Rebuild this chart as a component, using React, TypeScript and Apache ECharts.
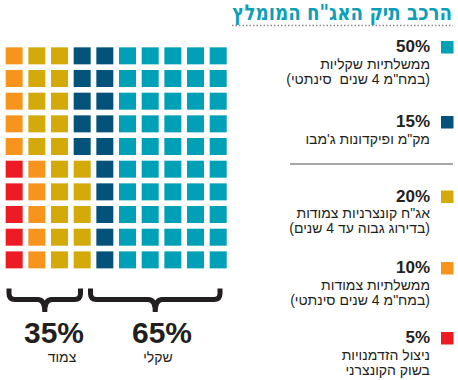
import React, { useEffect, useRef } from "react";
import * as echarts from "echarts";

// ---- data ----
const titleText = "הרכב תיק האג\"ח המומלץ";
const shares = [50, 15, 20, 10, 5];
const shareLabels = ["50%", "15%", "20%", "10%", "5%"];
const legendLines = [
  ["ממשלתיות שקליות", "(במח\"מ 4 שנים  סינתטי)"],
  ["מק\"מ ופיקדונות ג'מבו"],
  ["אג\"ח קונצרניות צמודות", "(בדירוג גבוה עד 4 שנים)"],
  ["ממשלתיות צמודות", "(במח\"מ 4 שנים סינתטי)"],
  ["ניצול הזדמנויות", "בשוק הקונצרני"],
];
const colors = ["#00A0B6", "#02527A", "#D4A90A", "#F7941D", "#ED1C24"];
const groupPercents = ["35%", "65%"];
const groupNames = ["צמוד", "שקלי"];

const GRID_N = 10;
const FONT = "'Liberation Sans', 'DejaVu Sans', sans-serif";
const TITLE_FONT = "'DejaVu Sans', 'Liberation Sans', sans-serif";
const rtl = (s: string) => "\u200F" + s + "\u200F";

function braceD(x1: number, x2: number, yTop: number, yBar: number, yTip: number) {
  const m = (x1 + x2) / 2;
  const r = 6;
  return `M${x1} ${yTop} L${x1} ${yBar - r} Q${x1} ${yBar} ${x1 + r} ${yBar} L${m - 7} ${yBar} Q${m} ${yBar} ${m} ${yTip} Q${m} ${yBar} ${m + 7} ${yBar} L${x2 - r} ${yBar} Q${x2} ${yBar} ${x2} ${yBar - r} L${x2} ${yTop}`;
}

echarts.graphic.registerShape("braceLeft", echarts.graphic.extendPath(braceD(9, 80.5, 288.5, 299.5, 312), {}) as any);
echarts.graphic.registerShape("braceRight", echarts.graphic.extendPath(braceD(90.5, 220, 288.5, 299.5, 312), {}) as any);

function buildCells() {
  // fill columns right-to-left, top-to-bottom
  const out: number[][][] = shares.map(() => []);
  let idx = 0;
  shares.forEach((count, ci) => {
    for (let k = 0; k < count; k++) {
      const col = GRID_N - 1 - Math.floor(idx / GRID_N);
      const row = idx % GRID_N;
      out[ci].push([col, row]);
      idx++;
    }
  });
  return out;
}

export default function App() {
  const ref = useRef<HTMLDivElement>(null);
  useEffect(() => {
    if (!ref.current) return;
    const chart = echarts.init(ref.current, undefined, { renderer: "svg" });
    const cells = buildCells();
    const itemY = [46.5, 121.5, 196, 267.5, 337.5];
    const graphic: any[] = [];
    graphic.push({
      type: "text", x: 452, y: 12.8, scaleX: 0.83, scaleY: 1,
      style: { text: rtl(titleText), fill: "#0E9FB7", font: `bold 22px ${TITLE_FONT}`, align: "right", verticalAlign: "middle" },
    });
    graphic.push({
      type: "line", shape: { x1: 232, y1: 25.5, x2: 453, y2: 25.5 },
      style: { stroke: "#8a8a8a", lineWidth: 1.5, lineDash: [1.5, 2] },
    });
    graphic.push({
      type: "line", shape: { x1: 290, y1: 164, x2: 453, y2: 164 },
      style: { stroke: "#8a8a8a", lineWidth: 1.5 },
    });
    shareLabels.forEach((lab, i) => {
      const y = itemY[i];
      graphic.push({ type: "rect", shape: { x: 441, y: y - 5.5, width: 12.5, height: 12.5 }, style: { fill: colors[i] } });
      graphic.push({
        type: "text", x: 430, y,
        style: { text: lab, fill: "#231f20", font: `bold 17px ${FONT}`, align: "right", verticalAlign: "middle" },
      });
      legendLines[i].forEach((ln, j) => {
        graphic.push({
          type: "text", x: 430, y: y + 17 + j * 15,
          style: { text: rtl(ln), fill: "#231f20", font: `14px ${FONT}`, align: "right", verticalAlign: "middle" },
        });
      });
    });
    graphic.push({ type: "braceLeft", x: 0, y: 0, style: { fill: "none", stroke: "#231f20", lineWidth: 5, lineJoin: "miter" } });
    graphic.push({ type: "braceRight", x: 0, y: 0, style: { fill: "none", stroke: "#231f20", lineWidth: 5, lineJoin: "miter" } });
    const gx = [54, 162];
    const nx = [62, 158];
    groupPercents.forEach((p, i) => {
      graphic.push({
        type: "text", x: gx[i], y: 332.5,
        style: { text: p, fill: "#231f20", font: `bold 30px ${FONT}`, align: "center", verticalAlign: "middle" },
      });
      graphic.push({
        type: "text", x: nx[i], y: 357,
        style: { text: rtl(groupNames[i]), fill: "#231f20", font: `14px ${FONT}`, align: "center", verticalAlign: "middle" },
      });
    });

    chart.setOption({
      animation: false,
      backgroundColor: "#ffffff",
      grid: { left: 2.83, top: 44.5, width: 226.7, height: 226.7 },
      xAxis: { type: "value", min: -0.5, max: 9.5, show: false },
      yAxis: { type: "value", min: -0.5, max: 9.5, inverse: true, show: false },
      series: cells.map((d, i) => ({
        type: "scatter",
        name: shareLabels[i],
        data: d,
        symbol: "rect",
        symbolSize: 17,
        silent: true,
        itemStyle: { color: colors[i], opacity: 1 },
      })),
      graphic,
    });
    return () => chart.dispose();
  }, []);
  return (
    <div
      ref={ref}
      style={{ position: "fixed", left: 0, top: 0, width: 458, height: 380, background: "#fff" }}
    />
  );
}
